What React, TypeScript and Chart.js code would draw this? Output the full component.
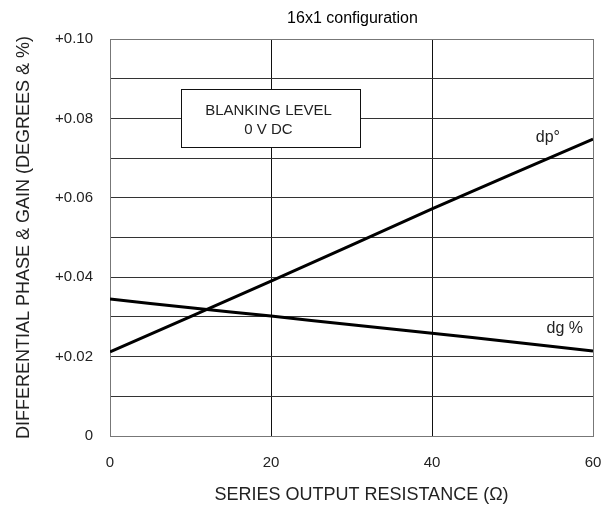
import React, { useEffect, useRef } from 'react';
import { Chart, registerables } from 'chart.js';

Chart.register(...registerables);

const chartTitle = '16x1 configuration';
const xAxisTitle = 'SERIES OUTPUT RESISTANCE (Ω)';
const yAxisTitle = 'DIFFERENTIAL PHASE & GAIN (DEGREES & %)';

const resistance = [0, 10, 20, 30, 40, 50, 60];
const dpDegrees = [0.0212, 0.0301, 0.039, 0.0481, 0.0572, 0.066, 0.0748];
const dgPercent = [0.0345, 0.0323, 0.0302, 0.028, 0.0259, 0.0237, 0.0214];

const xTicks = [0, 20, 40, 60];
const xTickLabels = ['0', '20', '40', '60'];
const yTicks = [0, 0.01, 0.02, 0.03, 0.04, 0.05, 0.06, 0.07, 0.08, 0.09, 0.1];
const yTickLabels = ['0', '', '+0.02', '', '+0.04', '', '+0.06', '', '+0.08', '', '+0.10'];

const seriesLabels = ['dp°', 'dg %'];
const boxLines = ['BLANKING LEVEL', '0 V DC'];

const FONT = '"Liberation Sans", Arial, Helvetica, sans-serif';

const overlayPlugin = {
  id: 'overlay',
  afterDatasetsDraw(chart: any) {
    const { ctx, chartArea, scales } = chart;
    const xs = scales.x;
    const ys = scales.y;
    ctx.save();
    // annotation box
    const bx1 = Math.round(xs.getPixelForValue(8.8));
    const bx2 = Math.round(xs.getPixelForValue(31.1));
    const by1 = Math.round(ys.getPixelForValue(0.0874));
    const by2 = Math.round(ys.getPixelForValue(0.0728));
    ctx.fillStyle = '#fff';
    ctx.fillRect(bx1, by1, bx2 - bx1, by2 - by1);
    ctx.strokeStyle = '#111';
    ctx.lineWidth = 1;
    ctx.strokeRect(bx1 + 0.5, by1 + 0.5, bx2 - bx1, by2 - by1);
    ctx.fillStyle = '#222';
    ctx.font = `15px ${FONT}`;
    ctx.textAlign = 'center';
    ctx.textBaseline = 'alphabetic';
    const bcx = (bx1 + bx2) / 2 - 2;
    ctx.fillText(boxLines[0], bcx, by1 + 26);
    ctx.fillText(boxLines[1], bcx, by1 + 45);
    // series labels
    ctx.font = `16px ${FONT}`;
    ctx.fillText(seriesLabels[0], xs.getPixelForValue(54.4), ys.getPixelForValue(0.074));
    ctx.fillText(seriesLabels[1], xs.getPixelForValue(56.5), ys.getPixelForValue(0.0259));
    // chart title
    ctx.font = `16px ${FONT}`;
    ctx.fillStyle = '#000';
    ctx.fillText(chartTitle, (chartArea.left + chartArea.right) / 2 + 1, 23);
    // x axis title
    ctx.fillStyle = '#222';
    ctx.font = `18px ${FONT}`;
    ctx.fillText(xAxisTitle, (chartArea.left + chartArea.right) / 2 + 10, 500);
    // y axis title
    ctx.translate(29, (chartArea.top + chartArea.bottom) / 2);
    ctx.rotate(-Math.PI / 2);
    ctx.fillText(yAxisTitle, 0, 0);
    ctx.restore();
  },
};

export default function App() {
  const ref = useRef<HTMLCanvasElement | null>(null);
  useEffect(() => {
    if (!ref.current) return;
    const chart = new Chart(ref.current, {
      type: 'line',
      data: {
        datasets: [
          {
            label: seriesLabels[0],
            data: resistance.map((x, i) => ({ x, y: dpDegrees[i] })),
            borderColor: '#000',
            borderWidth: 3,
            pointRadius: 0,
            tension: 0,
            fill: false,
          },
          {
            label: seriesLabels[1],
            data: resistance.map((x, i) => ({ x, y: dgPercent[i] })),
            borderColor: '#000',
            borderWidth: 3,
            pointRadius: 0,
            tension: 0.2,
            fill: false,
          },
        ],
      },
      options: {
        animation: false,
        responsive: false,
        devicePixelRatio: 1,
        layout: { padding: { top: 39, right: 20, left: 0, bottom: 0 } },
        plugins: {
          legend: { display: false },
          title: { display: false },
          tooltip: { enabled: false },
        },
        scales: {
          x: {
            type: 'linear',
            min: 0,
            max: 60,
            afterBuildTicks: (scale: any) => {
              scale.ticks = xTicks.map((v) => ({ value: v }));
            },
            afterFit: (scale: any) => {
              scale.height = 69;
              scale.paddingLeft = 0;
              scale.paddingRight = 0;
            },
            ticks: {
              autoSkip: false,
              maxRotation: 0,
              padding: 18,
              color: '#222',
              font: { family: FONT, size: 15 },
              callback: (_v: any, i: number) => xTickLabels[i],
            },
            grid: {
              drawTicks: false,
              color: (c: any) => (c.tick && (c.tick.value === 60 || c.tick.value === 0) ? '#777' : '#111'),
              lineWidth: 1,
            },
            border: { display: true, color: '#777', width: 1 },
          },
          y: {
            type: 'linear',
            min: 0,
            max: 0.1,
            afterBuildTicks: (scale: any) => {
              scale.ticks = yTicks.map((v) => ({ value: v }));
            },
            afterFit: (scale: any) => {
              scale.width = 110;
              scale.paddingTop = 0;
              scale.paddingBottom = 0;
            },
            ticks: {
              autoSkip: false,
              padding: 17,
              color: '#222',
              font: { family: FONT, size: 15 },
              callback: (_v: any, i: number) => yTickLabels[i],
            },
            grid: {
              drawTicks: false,
              color: (c: any) => (c.tick && (c.tick.value === 0.1 || c.tick.value === 0) ? '#777' : '#333'),
              lineWidth: 1,
            },
            border: { display: true, color: '#777', width: 1 },
          },
        },
      },
      plugins: [overlayPlugin],
    } as any);
    return () => chart.destroy();
  }, []);
  return (
    <div style={{ position: 'absolute', left: 0, top: 0, width: 613, height: 505, background: '#fff' }}>
      <canvas ref={ref} width={613} height={505} style={{ display: 'block' }} />
    </div>
  );
}
